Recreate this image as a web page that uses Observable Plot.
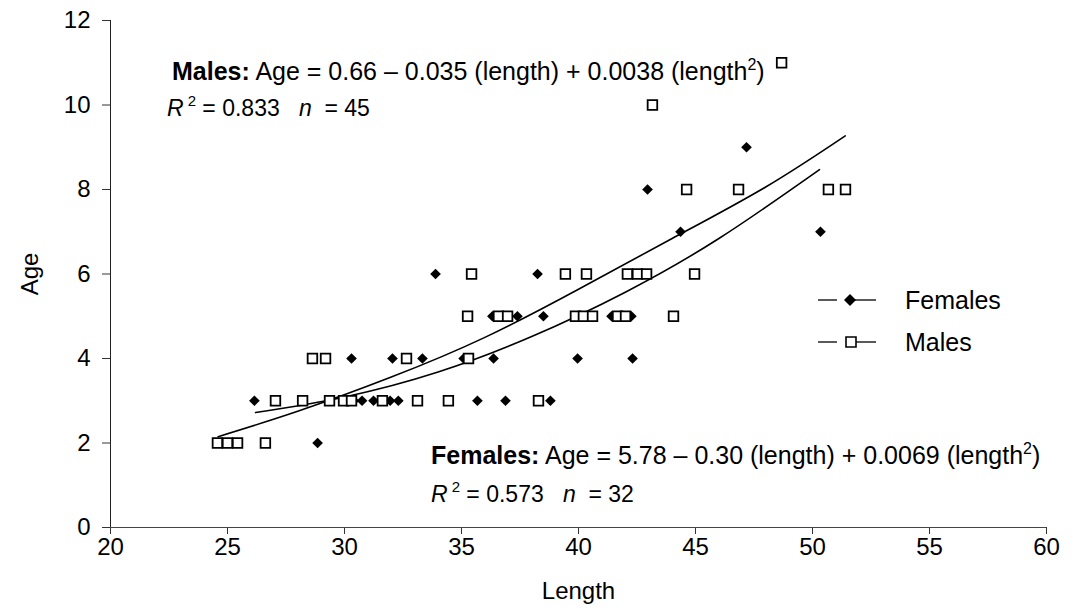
<!DOCTYPE html>
<html>
<head>
<meta charset="utf-8">
<script src="https://cdn.jsdelivr.net/npm/d3@7"></script>
<script src="https://cdn.jsdelivr.net/npm/@observablehq/plot@0.6"></script>
<style>
  html, body { margin: 0; padding: 0; background: #fff; }
  #wrap { position: relative; width: 1076px; height: 611px; font-family: "Liberation Sans", Arial, sans-serif; color: #000; }
  .note { position: absolute; font-size: 25px; line-height: 28px; white-space: pre; }
  .note.small { font-size: 23px; }
  .note sup { font-size: 16px; line-height: 0; vertical-align: 10px; }
  .note sup.r2 { margin-left: 4px; font-size: 15px; }
  .leg { position: absolute; font-size: 25px; line-height: 28px; }
</style>
</head>
<body>
<div id="wrap"></div>
<script>
// ---- data ----
const femaleLength = [28.85,
  26.15, 30.4, 30.75, 31.24, 31.95, 32.3, 34.44, 35.68, 36.88, 38.8,
  30.3, 32.05, 33.33, 35.09, 36.37, 39.96, 42.31,
  36.32, 37.39, 38.5, 41.41, 42.26,
  33.89, 38.25,
  44.36, 50.34,
  42.95,
  47.18];
const femaleAge = [2,
  3, 3, 3, 3, 3, 3, 3, 3, 3, 3,
  4, 4, 4, 4, 4, 4, 4,
  5, 5, 5, 5, 5,
  6, 6,
  7, 7,
  8,
  9];
const maleLength = [24.57, 25.0, 25.43, 26.62,
  27.05, 28.21, 29.36, 29.96, 30.3, 31.62, 33.12, 34.44, 38.29,
  28.63, 29.19, 32.65, 35.3,
  35.26, 36.58, 36.97, 39.87, 40.21, 40.6, 41.67, 42.01, 44.06,
  35.43, 39.44, 40.34, 42.09, 42.52, 42.91, 44.96,
  44.62, 46.84, 50.68, 51.41,
  43.16,
  48.68];
const maleAge = [2, 2, 2, 2,
  3, 3, 3, 3, 3, 3, 3, 3, 3,
  4, 4, 4, 4,
  5, 5, 5, 5, 5, 5, 5, 5, 5,
  6, 6, 6, 6, 6, 6, 6,
  8, 8, 8, 8,
  10,
  11];
// fitted curves: points
const maleFitLength = [24.6, 28, 32, 36, 40, 44, 48, 51.4];
const maleFitAge    = [2.15, 2.75, 3.56, 4.50, 5.64, 6.84, 8.06, 9.27];
const femaleFitLength = [26.2, 30, 34, 38, 42, 46, 50.3];
const femaleFitAge    = [2.72, 3.09, 3.68, 4.52, 5.57, 6.84, 8.47];
const xTicks = [20, 25, 30, 35, 40, 45, 50, 55, 60];
const yTicks = [0, 2, 4, 6, 8, 10, 12];

const females = femaleLength.map((l, i) => ({length: l, age: femaleAge[i]}));
const males = maleLength.map((l, i) => ({length: l, age: maleAge[i]}));
const maleFit = maleFitLength.map((l, i) => ({length: l, age: maleFitAge[i]}));
const femaleFit = femaleFitLength.map((l, i) => ({length: l, age: femaleFitAge[i]}));

const chart = Plot.plot({
  width: 1076,
  height: 611,
  marginLeft: 110,
  marginRight: 30,
  marginTop: 20,
  marginBottom: 84,
  style: {fontFamily: "'Liberation Sans', Arial, sans-serif", fontSize: "24px", background: "#fff", color: "#000"},
  x: {domain: [20, 60]},
  y: {domain: [0, 12]},
  marks: [
    Plot.axisX({ticks: xTicks, tickSize: 7, tickPadding: 3, tickFormat: d => d, label: "Length", labelArrow: "none", labelAnchor: "center", labelOffset: 71, stroke: "#333"}),
    Plot.axisY({ticks: yTicks, tickSize: 8, tickPadding: 12, tickFormat: d => d, label: "Age", labelArrow: "none", labelAnchor: "center", labelOffset: 90, stroke: "#333"}),
    Plot.ruleX([20], {stroke: "#222", strokeWidth: 1}),
    Plot.ruleY([0], {stroke: "#444", strokeWidth: 1}),
    Plot.line(maleFit, {x: "length", y: "age", curve: "natural", stroke: "#000", strokeWidth: 1.6}),
    Plot.line(femaleFit, {x: "length", y: "age", curve: "natural", stroke: "#000", strokeWidth: 1.6}),
    Plot.dot(females, {x: "length", y: "age", symbol: "diamond2", r: 4.8, fill: "#000", stroke: "none"}),
    Plot.dot(males, {x: "length", y: "age", symbol: "square", r: 5.4, fill: "#fff", stroke: "#000", strokeWidth: 1.8})
  ]
});

const wrap = document.getElementById("wrap");
wrap.appendChild(chart);

function note(html, left, top, cls) {
  const d = document.createElement("div");
  d.className = "note" + (cls ? " " + cls : "");
  d.style.left = left + "px";
  d.style.top = top + "px";
  d.innerHTML = html;
  wrap.appendChild(d);
}
note("<b>Males:</b> Age = 0.66 \u2013 0.035 (length) + 0.0038 (length<sup>2</sup>)", 172, 57);
note("<i>R</i><sup class=\"r2\">2</sup> = 0.833   <i>n</i>  = 45", 167, 94, "small");
note("<b>Females:</b> Age = 5.78 \u2013 0.30 (length) + 0.0069 (length<sup>2</sup>)", 431, 441);
note("<i>R</i><sup class=\"r2\">2</sup> = 0.573   <i>n</i>  = 32", 431, 480, "small");

// legend
function legendRow(label, top, filled) {
  const ns = "http://www.w3.org/2000/svg";
  const svg = document.createElementNS(ns, "svg");
  svg.setAttribute("width", 70); svg.setAttribute("height", 20);
  svg.style.position = "absolute"; svg.style.left = "812px"; svg.style.top = (top - 10) + "px";
  const l1 = document.createElementNS(ns, "line");
  l1.setAttribute("x1", 6); l1.setAttribute("x2", 25); l1.setAttribute("y1", 10); l1.setAttribute("y2", 10);
  l1.setAttribute("stroke", "#000"); l1.setAttribute("stroke-width", 1.3);
  const l2 = document.createElementNS(ns, "line");
  l2.setAttribute("x1", 38); l2.setAttribute("x2", 64); l2.setAttribute("y1", 10); l2.setAttribute("y2", 10);
  l2.setAttribute("stroke", "#000"); l2.setAttribute("stroke-width", 1.3);
  svg.appendChild(l1); svg.appendChild(l2);
  const m = document.createElementNS(ns, "path");
  if (filled) {
    m.setAttribute("d", "M38,4 L44,10 L38,16 L32,10 Z");
    m.setAttribute("fill", "#000");
  } else {
    m.setAttribute("d", "M34,5 H44 V15 H34 Z");
    m.setAttribute("fill", "#fff"); m.setAttribute("stroke", "#000"); m.setAttribute("stroke-width", 1.6);
  }
  svg.appendChild(m);
  wrap.appendChild(svg);
  const t = document.createElement("div");
  t.className = "leg";
  t.style.left = "905px"; t.style.top = (top - 14) + "px";
  t.textContent = label;
  wrap.appendChild(t);
}
legendRow("Females", 300, true);
legendRow("Males", 342, false);
</script>
</body>
</html>
